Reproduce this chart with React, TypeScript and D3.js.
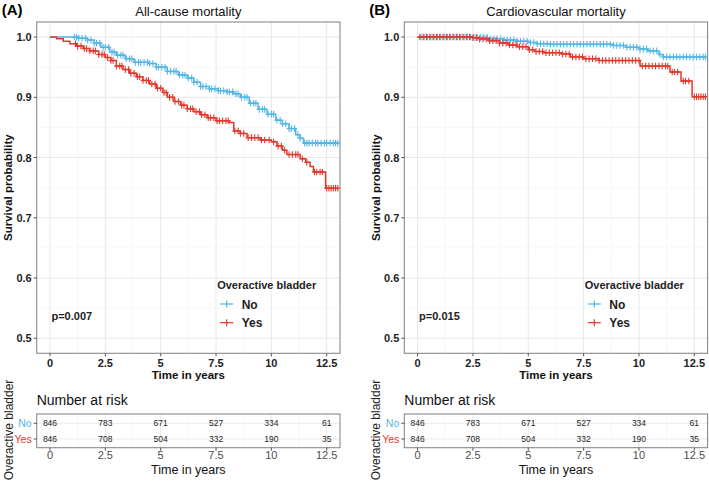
import React from 'react';
import * as d3 from 'd3';

// survival curves: [time, survival] knots (step after)
const allNo = [[0, 1], [1.1, 1], [1.3, 0.998], [1.7, 0.995], [2.0, 0.99], [2.3, 0.983], [2.7, 0.975], [3.0, 0.97], [3.4, 0.964], [3.8, 0.958], [4.5, 0.956], [4.8, 0.95], [5.3, 0.943], [5.8, 0.937], [6.2, 0.932], [6.5, 0.925], [6.8, 0.918], [7.2, 0.914], [7.6, 0.911], [8.0, 0.909], [8.3, 0.906], [8.6, 0.9], [9.0, 0.89], [9.4, 0.88], [9.8, 0.872], [10.2, 0.862], [10.5, 0.856], [10.8, 0.848], [11.1, 0.838], [11.3, 0.832], [11.45, 0.824], [13.05, 0.824]];
const allYes = [[0, 1], [0.3, 0.997], [0.6, 0.993], [0.9, 0.989], [1.2, 0.985], [1.5, 0.981], [1.8, 0.977], [2.2, 0.971], [2.5, 0.966], [2.75, 0.961], [3.0, 0.952], [3.3, 0.946], [3.6, 0.94], [3.9, 0.934], [4.2, 0.928], [4.5, 0.922], [4.8, 0.915], [5.1, 0.908], [5.3, 0.9], [5.6, 0.893], [5.9, 0.887], [6.2, 0.881], [6.5, 0.876], [6.8, 0.871], [7.1, 0.866], [7.5, 0.861], [8.1, 0.858], [8.3, 0.844], [8.6, 0.84], [8.9, 0.833], [9.5, 0.829], [10.0, 0.826], [10.25, 0.819], [10.5, 0.812], [10.7, 0.805], [11.3, 0.798], [11.55, 0.792], [11.75, 0.785], [11.9, 0.776], [12.45, 0.749], [13.05, 0.749]];
const cvdNo = [[0, 1], [2.5, 0.999], [3.2, 0.997], [3.9, 0.995], [4.5, 0.993], [5.0, 0.991], [5.4, 0.989], [6.0, 0.988], [8.8, 0.986], [9.4, 0.983], [10.0, 0.98], [10.4, 0.977], [10.9, 0.971], [11.1, 0.967], [13.05, 0.967]];
const cvdYes = [[0, 1], [2.5, 0.999], [2.8, 0.997], [3.2, 0.994], [3.7, 0.99], [4.1, 0.987], [4.5, 0.984], [5.0, 0.979], [5.3, 0.976], [5.7, 0.974], [6.5, 0.972], [6.9, 0.967], [7.5, 0.964], [8.2, 0.961], [10.05, 0.952], [11.4, 0.942], [11.9, 0.927], [12.4, 0.901], [13.05, 0.901]];

// censoring times
const allNoCens = [1.1, 1.2, 1.3, 1.45, 1.6, 1.7, 1.85, 2.0, 2.1, 2.25, 2.4, 2.5, 2.65, 2.8, 2.9, 3.05, 3.2, 3.3, 3.45, 3.6, 3.7, 3.85, 4.0, 4.1, 4.25, 4.4, 4.5, 4.65, 4.8, 4.9, 5.05, 5.2, 5.3, 5.45, 5.6, 5.7, 5.85, 6.0, 6.1, 6.25, 6.4, 6.5, 6.65, 6.8, 6.9, 7.05, 7.2, 7.3, 7.45, 7.6, 7.7, 7.85, 8.0, 8.1, 8.25, 8.4, 8.5, 8.65, 8.8, 8.9, 9.05, 9.2, 9.3, 9.45, 9.6, 9.7, 9.85, 10.0, 10.1, 10.25, 10.4, 10.5, 10.65, 10.8, 10.9, 11.05, 11.2, 11.3, 11.5, 11.6, 11.7, 11.85, 12.0, 12.1, 12.25, 12.4, 12.5, 12.65, 12.8, 12.9, 13.0];
const allYesCens = [1.15, 1.25, 1.4, 1.55, 1.65, 1.8, 1.95, 2.05, 2.2, 2.35, 2.45, 2.6, 2.75, 2.85, 3.0, 3.15, 3.25, 3.4, 3.55, 3.65, 3.8, 3.95, 4.05, 4.2, 4.35, 4.45, 4.6, 4.75, 4.85, 5.0, 5.15, 5.25, 5.4, 5.55, 5.65, 5.8, 5.95, 6.05, 6.2, 6.35, 6.45, 6.6, 6.75, 6.85, 7.0, 7.15, 7.25, 7.4, 7.55, 7.65, 7.8, 7.95, 8.05, 8.35, 8.5, 8.6, 8.75, 8.95, 9.1, 9.25, 9.4, 9.55, 9.7, 9.9, 10.1, 10.3, 10.45, 10.6, 10.8, 10.95, 11.1, 11.2, 11.4, 11.6, 11.95, 12.05, 12.2, 12.3, 12.5, 12.6, 12.7, 12.8, 12.9, 13.0];
const cvdNoCens = [0.15, 0.3, 0.45, 0.6, 0.75, 0.9, 1.05, 1.2, 1.35, 1.5, 1.65, 1.8, 1.95, 2.1, 2.25, 2.4, 2.55, 2.7, 2.85, 3.0, 3.15, 3.3, 3.45, 3.6, 3.75, 3.9, 4.05, 4.2, 4.35, 4.5, 4.65, 4.8, 4.95, 5.1, 5.25, 5.4, 5.55, 5.7, 5.85, 6.0, 6.15, 6.3, 6.45, 6.6, 6.75, 6.9, 7.05, 7.2, 7.35, 7.5, 7.65, 7.8, 7.95, 8.1, 8.25, 8.4, 8.55, 8.7, 8.85, 9.0, 9.15, 9.3, 9.45, 9.6, 9.75, 9.9, 10.05, 10.2, 10.35, 10.5, 10.65, 10.8, 10.95, 11.1, 11.25, 11.4, 11.55, 11.7, 11.85, 12.0, 12.15, 12.3, 12.45, 12.6, 12.75, 12.9, 13.0];
const cvdYesCens = [0.1, 0.25, 0.4, 0.55, 0.7, 0.85, 1.0, 1.15, 1.3, 1.45, 1.6, 1.75, 1.9, 2.05, 2.2, 2.35, 2.5, 2.65, 2.8, 2.95, 3.1, 3.25, 3.4, 3.55, 3.7, 3.85, 4.0, 4.15, 4.3, 4.45, 4.6, 4.75, 4.9, 5.05, 5.2, 5.35, 5.5, 5.65, 5.8, 5.95, 6.1, 6.25, 6.4, 6.55, 6.7, 6.85, 7.0, 7.15, 7.3, 7.45, 7.6, 7.75, 7.9, 8.05, 8.2, 8.35, 8.5, 8.65, 8.8, 8.95, 9.1, 9.25, 9.4, 9.55, 9.7, 9.85, 10.0, 10.15, 10.3, 10.45, 10.6, 10.75, 10.9, 11.05, 11.2, 11.3, 11.5, 11.6, 11.75, 12.0, 12.1, 12.25, 12.5, 12.6, 12.7, 12.8, 12.9, 13.0];

const groups = ['No', 'Yes'];
const colors = { No: '#52B6E6', Yes: '#E2382C' };
const xTicks = [0, 2.5, 5, 7.5, 10, 12.5];
const xMinor = [1.25, 3.75, 6.25, 8.75, 11.25];
const yTicks = [0.5, 0.6, 0.7, 0.8, 0.9, 1.0];
const yMinor = [0.55, 0.65, 0.75, 0.85, 0.95];
const riskNo = [846, 783, 671, 527, 334, 61];
const riskYes = [846, 708, 504, 332, 190, 35];

const panels = [
  { tag: '(A)', title: 'All-cause mortality', p: 'p=0.007', no: allNo, yes: allYes, noC: allNoCens, yesC: allYesCens, dx: 0 },
  { tag: '(B)', title: 'Cardiovascular mortality', p: 'p=0.015', no: cvdNo, yes: cvdYes, noC: cvdNoCens, yesC: cvdYesCens, dx: 367.6 },
];

const font = 'Liberation Sans, Arial, Helvetica, sans-serif';

const survAt = (knots, t) => {
  let s = knots[0][1];
  for (const k of knots) {
    if (k[0] <= t) s = k[1];
  }
  return s;
};

function Panel({ cfg }) {
  const left = 36.7 + cfg.dx;
  const right = 340 + cfg.dx;
  const top = 22;
  const bottom = 353.3;
  const x = d3.scaleLinear().domain([-0.6, 13.1]).range([left, right]);
  const y = d3.scaleLinear().domain([0.475, 1.025]).range([bottom, top]);
  const line = d3.line().x(d => x(d[0])).y(d => y(d[1])).curve(d3.curveStepAfter);
  const mid = (left + right) / 2;

  const curves = [
    { g: 'No', knots: cfg.no, cens: cfg.noC },
    { g: 'Yes', knots: cfg.yes, cens: cfg.yesC },
  ];

  // risk table
  const rTop = 414;
  const rBottom = 447.7;
  const rowY = { No: 423.3, Yes: 439 };
  const risk = { No: riskNo, Yes: riskYes };

  return (
    <g fontFamily={font}>
      <text x={left - 35} y={15} fontSize={15} fontWeight="bold">{cfg.tag}</text>
      <text x={mid} y={16} fontSize={13} textAnchor="middle" fill="#111">{cfg.title}</text>

      {/* grid */}
      {xMinor.map(t => <line key={'xm' + t} x1={x(t)} x2={x(t)} y1={top} y2={bottom} stroke="#f3f3f3" strokeWidth={0.6} />)}
      {yMinor.map(t => <line key={'ym' + t} x1={left} x2={right} y1={y(t)} y2={y(t)} stroke="#f3f3f3" strokeWidth={0.6} />)}
      {xTicks.map(t => <line key={'xg' + t} x1={x(t)} x2={x(t)} y1={top} y2={bottom} stroke="#e8e8e8" strokeWidth={1} />)}
      {yTicks.map(t => <line key={'yg' + t} x1={left} x2={right} y1={y(t)} y2={y(t)} stroke="#e8e8e8" strokeWidth={1} />)}

      {/* curves */}
      {curves.map(c => (
        <g key={c.g} stroke={colors[c.g]} fill="none">
          <path d={line(c.knots)} strokeWidth={1.5} />
          {c.cens.map((t, i) => {
            const cx = x(t);
            const cy = y(survAt(c.knots, t));
            return (
              <g key={i} strokeWidth={1.1}>
                <line x1={cx} x2={cx} y1={cy - 3.3} y2={cy + 3.3} />
                <line x1={cx - 2.5} x2={cx + 2.5} y1={cy} y2={cy} />
              </g>
            );
          })}
        </g>
      ))}

      <rect x={left} y={top} width={right - left} height={bottom - top} fill="none" stroke="#8a8a8a" strokeWidth={1.1} />

      {/* axes */}
      {yTicks.map(t => (
        <g key={'yt' + t}>
          <line x1={left - 3} x2={left} y1={y(t)} y2={y(t)} stroke="#555" />
          <text x={left - 5} y={y(t) + 4} fontSize={11} fontWeight="bold" textAnchor="end" fill="#222">{t.toFixed(1)}</text>
        </g>
      ))}
      {xTicks.map(t => (
        <g key={'xt' + t}>
          <line x1={x(t)} x2={x(t)} y1={bottom} y2={bottom + 3} stroke="#555" />
          <text x={x(t)} y={bottom + 14} fontSize={11} fontWeight="bold" textAnchor="middle" fill="#222">{t}</text>
        </g>
      ))}
      <text x={mid} y={379} fontSize={11.5} fontWeight="bold" textAnchor="middle" fill="#111">Time in years</text>
      <text transform={`translate(${left - 24.5},${(top + bottom) / 2}) rotate(-90)`} fontSize={11.5} fontWeight="bold" textAnchor="middle" fill="#111">Survival probability</text>

      <text x={x(0) + 1.5} y={319.5} fontSize={11} fontWeight="bold" fill="#222">{cfg.p}</text>

      {/* legend */}
      <text x={left + 180.5} y={288.5} fontSize={11} fontWeight="bold" fill="#222">Overactive bladder</text>
      {groups.map((g, i) => {
        const ly = 304 + i * 18.7;
        const lx = left + 190;
        return (
          <g key={'lg' + g}>
            <g stroke={colors[g]} strokeWidth={1.2}>
              <line x1={lx - 6.5} x2={lx + 6.5} y1={ly} y2={ly} />
              <line x1={lx} x2={lx} y1={ly - 3.5} y2={ly + 3.5} />
            </g>
            <text x={left + 205} y={ly + 4.5} fontSize={12} fontWeight="bold" fill="#222">{g}</text>
          </g>
        );
      })}

      {/* number at risk */}
      <text x={left} y={405} fontSize={14} fill="#111">Number at risk</text>
      {xMinor.map(t => <line key={'rm' + t} x1={x(t)} x2={x(t)} y1={rTop} y2={rBottom} stroke="#f3f3f3" strokeWidth={0.6} />)}
      {xTicks.map(t => <line key={'rg' + t} x1={x(t)} x2={x(t)} y1={rTop} y2={rBottom} stroke="#ebebeb" />)}
      {groups.map(g => <line key={'rh' + g} x1={left} x2={right} y1={rowY[g]} y2={rowY[g]} stroke="#ebebeb" />)}
      {groups.map(g => risk[g].map((v, i) => (
        <text key={g + i} x={x(xTicks[i])} y={rowY[g] + 3} fontSize={8.5} textAnchor="middle" fill="#222">{v}</text>
      )))}
      <rect x={left} y={rTop} width={right - left} height={rBottom - rTop} fill="none" stroke="#8a8a8a" strokeWidth={1.1} />
      {groups.map(g => (
        <g key={'rl' + g}>
          <line x1={left - 3} x2={left} y1={rowY[g]} y2={rowY[g]} stroke="#555" />
          <text x={left - 5} y={rowY[g] + 4} fontSize={10.5} textAnchor="end" fill={colors[g]}>{g}</text>
        </g>
      ))}
      {xTicks.map(t => (
        <g key={'rx' + t}>
          <line x1={x(t)} x2={x(t)} y1={rBottom} y2={rBottom + 3} stroke="#555" />
          <text x={x(t)} y={459} fontSize={11} textAnchor="middle" fill="#4d4d4d">{t}</text>
        </g>
      ))}
      <text x={mid} y={474} fontSize={12.5} textAnchor="middle" fill="#111">Time in years</text>
      <text transform={`translate(${left - 24},${430}) rotate(-90)`} fontSize={12} textAnchor="middle" fill="#222">Overactive bladder</text>
    </g>
  );
}

export default function App() {
  return (
    <svg width={709} height={481} style={{ position: 'absolute', left: 0, top: 0, background: '#fff' }}>
      <rect width={709} height={481} fill="#fff" />
      {panels.map(p => <Panel key={p.tag} cfg={p} />)}
    </svg>
  );
}
